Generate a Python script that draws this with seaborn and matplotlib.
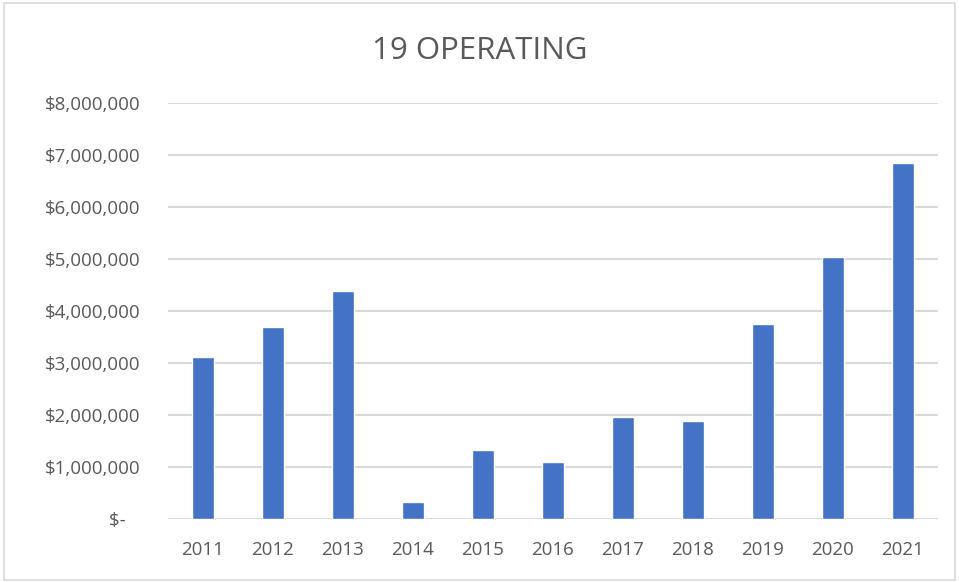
import numpy as np
import pandas as pd
import seaborn as sns
import matplotlib.pyplot as plt
from matplotlib.patches import Rectangle
from matplotlib.ticker import FuncFormatter

years = ["2011", "2012", "2013", "2014", "2015", "2016", "2017", "2018", "2019", "2020", "2021"]
values = [3110000, 3700000, 4390000, 320000, 1330000, 1090000, 1960000, 1880000, 3760000, 5040000, 6840000]

df = pd.DataFrame({"year": years, "value": values})

sns.set_style("white")
plt.rcParams['font.family'] = ['Open Sans', 'DejaVu Sans']
text_color = "#595959"

fig = plt.figure(figsize=(9.59, 5.82), dpi=100)
ax = fig.add_axes([0.175, 0.108, 0.803, 0.715])

sns.barplot(data=df, x="year", y="value", color="#4472C4", width=0.31,
            saturation=1, ax=ax, zorder=3)

ax.set_ylim(0, 8000000)
ax.set_xlim(-0.5, len(years) - 0.5)
ax.set_yticks(np.arange(0, 8000001, 1000000))


def money(v, pos):
    if v == 0:
        return "$-   "
    return "${:,.0f}".format(v)


ax.yaxis.set_major_formatter(FuncFormatter(money))
ax.yaxis.grid(True, color="#d9d9d9", linewidth=1.5, zorder=0)
ax.set_axisbelow(True)
for s in ax.spines.values():
    s.set_visible(False)
ax.tick_params(axis="both", length=0, labelsize=13.5, labelcolor=text_color)
ax.tick_params(axis="y", pad=19.5)
ax.tick_params(axis="x", pad=16)
ax.set_xlabel("")
ax.set_ylabel("")

fig.text(0.5, 0.912, "19 OPERATING", ha="center", va="center", fontsize=22.5, color=text_color)
fig.add_artist(Rectangle((0.004, 0.004), 0.992, 0.99, transform=fig.transFigure,
                         fill=False, edgecolor="#d9d9d9", linewidth=1.2))

fig.savefig("out.png", dpi=100)
